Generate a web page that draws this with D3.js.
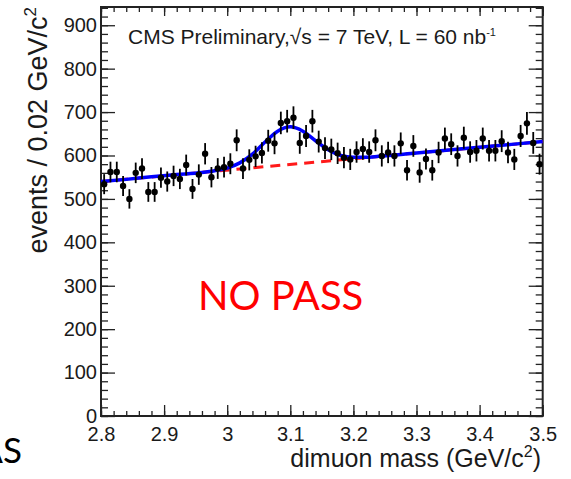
<!DOCTYPE html>
<head>
  <meta charset="utf-8">
  <script src="https://d3js.org/d3.v7.min.js"></script>
  <style>
    body { margin: 0; background: #ffffff; }
    svg { display: block; font-family: Arial, "Liberation Sans", sans-serif; }
  </style>
</head>
<body>
<script>
  // bin centres of the dimuon mass histogram (GeV/c^2)
  var massBins = [2.805, 2.815, 2.825, 2.835, 2.845, 2.855, 2.865, 2.875, 2.885, 2.895,
                  2.905, 2.915, 2.925, 2.935, 2.945, 2.955, 2.965, 2.975, 2.985, 2.995,
                  3.005, 3.015, 3.025, 3.035, 3.045, 3.055, 3.065, 3.075, 3.085, 3.095,
                  3.105, 3.115, 3.125, 3.135, 3.145, 3.155, 3.165, 3.175, 3.185, 3.195,
                  3.205, 3.215, 3.225, 3.235, 3.245, 3.255, 3.265, 3.275, 3.285, 3.295,
                  3.305, 3.315, 3.325, 3.335, 3.345, 3.355, 3.365, 3.375, 3.385, 3.395,
                  3.405, 3.415, 3.425, 3.435, 3.445, 3.455, 3.465, 3.475, 3.485, 3.495];
  // events per bin
  var counts = [534, 562, 562, 530, 500, 560, 570, 516, 516, 549,
                540, 553, 546, 578, 523, 556, 604, 550, 570, 573,
                581, 635, 570, 590, 598, 606, 634, 628, 675, 679,
                687, 629, 645, 679, 632, 617, 614, 605, 595, 591,
                608, 615, 608, 635, 599, 607, 599, 628, 566, 622,
                561, 592, 566, 607, 639, 626, 599, 641, 608, 611,
                639, 611, 611, 633, 607, 591, 645, 674, 629, 580];

  // total fit (signal + background)
  var fitMass   = [2.80, 2.84, 2.88, 2.92, 2.96, 2.98, 3.00, 3.02, 3.04, 3.06, 3.08, 3.10,
                   3.12, 3.14, 3.16, 3.18, 3.20, 3.22, 3.24, 3.30, 3.40, 3.50];
  var fitCounts = [540, 545, 551, 556, 561, 565, 571, 583, 603, 631, 656, 666,
                   656, 634, 613, 600, 596, 596, 598, 606, 619, 632];
  // background only (red dashed)
  var bkgMass   = [2.80, 3.50];
  var bkgCounts = [540, 632];

  var xTicks = [2.8, 2.9, 3.0, 3.1, 3.2, 3.3, 3.4, 3.5];
  var xTickLabels = ["2.8", "2.9", "3", "3.1", "3.2", "3.3", "3.4", "3.5"];
  var yTicks = [0, 100, 200, 300, 400, 500, 600, 700, 800, 900];

  var w = 571, h = 479;
  var plotLeft = 101, plotRight = 542.7, plotTop = 7, plotBottom = 416;

  var svg = d3.select("body").append("svg")
    .attr("width", w)
    .attr("height", h);

  var x = d3.scaleLinear().domain([2.8, 3.5]).range([plotLeft, plotRight]);
  var y = d3.scaleLinear().domain([0, 942]).range([plotBottom, plotTop]);

  var axisColor = "#222";

  // minor ticks, all four sides, pointing inwards
  function minorAxis(g) {
    g.selectAll("text").remove();
    g.select(".domain").remove();
    g.selectAll("line").attr("stroke", axisColor).attr("stroke-width", 1.3);
  }
  var yMinor = y.ticks(47);

  svg.append("g").attr("transform", "translate(0," + plotBottom + ")")
    .call(d3.axisBottom(x).tickValues(x.ticks(35)).tickSize(-5).tickFormat(""))
    .call(minorAxis);
  svg.append("g").attr("transform", "translate(0," + plotTop + ")")
    .call(d3.axisTop(x).tickValues(x.ticks(35)).tickSize(-5).tickFormat(""))
    .call(minorAxis);
  svg.append("g").attr("transform", "translate(" + plotLeft + ",0)")
    .call(d3.axisLeft(y).tickValues(yMinor).tickSize(-7).tickFormat(""))
    .call(minorAxis);
  svg.append("g").attr("transform", "translate(" + plotRight + ",0)")
    .call(d3.axisRight(y).tickValues(yMinor).tickSize(-7).tickFormat(""))
    .call(minorAxis);

  // major ticks with labels
  var xAxis = svg.append("g").attr("transform", "translate(0," + plotBottom + ")")
    .call(d3.axisBottom(x).tickValues(xTicks).tickSize(-11).tickPadding(11)
      .tickFormat(function(d, i) { return xTickLabels[i]; }));
  var yAxis = svg.append("g").attr("transform", "translate(" + plotLeft + ",0)")
    .call(d3.axisLeft(y).tickValues(yTicks).tickSize(-14).tickPadding(4));
  svg.append("g").attr("transform", "translate(0," + plotTop + ")")
    .call(d3.axisTop(x).tickValues(xTicks).tickSize(-9).tickFormat(""))
    .call(minorAxis);
  svg.append("g").attr("transform", "translate(" + plotRight + ",0)")
    .call(d3.axisRight(y).tickValues(yTicks).tickSize(-14).tickFormat(""))
    .call(minorAxis);

  [xAxis, yAxis].forEach(function(g) {
    g.select(".domain").remove();
    g.selectAll("line").attr("stroke", axisColor).attr("stroke-width", 1.3);
    g.selectAll("text").attr("fill", "#1a1a1a")
      .style("font-family", "Arial, 'Liberation Sans', sans-serif")
      .style("font-size", "20px");
  });

  // frame
  svg.append("rect")
    .attr("x", plotLeft).attr("y", plotTop)
    .attr("width", plotRight - plotLeft).attr("height", plotBottom - plotTop)
    .attr("fill", "none").attr("stroke", axisColor).attr("stroke-width", 2);

  // background fit
  var line = d3.line()
    .x(function(d) { return x(d[0]); })
    .y(function(d) { return y(d[1]); });

  svg.append("path")
    .datum(d3.zip(bkgMass, bkgCounts))
    .attr("d", line)
    .attr("fill", "none").attr("stroke", "#ff1a1a")
    .attr("stroke-width", 3).attr("stroke-dasharray", "10,7");

  // total fit
  svg.append("path")
    .datum(d3.zip(fitMass, fitCounts))
    .attr("d", line.curve(d3.curveMonotoneX))
    .attr("fill", "none").attr("stroke", "#0000ff")
    .attr("stroke-width", 3.5);

  // data points with statistical errors
  var pts = svg.append("g").selectAll("g")
    .data(d3.zip(massBins, counts))
    .enter().append("g");

  pts.append("line")
    .attr("x1", function(d) { return x(d[0]); })
    .attr("x2", function(d) { return x(d[0]); })
    .attr("y1", function(d) { return y(d[1] - Math.sqrt(d[1])); })
    .attr("y2", function(d) { return y(d[1] + Math.sqrt(d[1])); })
    .attr("stroke", "#000").attr("stroke-width", 1.8);

  pts.append("circle")
    .attr("cx", function(d) { return x(d[0]); })
    .attr("cy", function(d) { return y(d[1]); })
    .attr("r", 3.2)
    .attr("fill", "#000");

  // header
  var head = svg.append("text")
    .attr("x", 128).attr("y", 44)
    .attr("fill", "#1a1a1a")
    .style("font-size", "21px");
  head.append("tspan").text("CMS Preliminary,\u221As = 7 TeV, L = 60 nb");
  head.append("tspan").attr("dy", -8).style("font-size", "11px").text("-1");

  // axis titles
  var yt = svg.append("text")
    .attr("transform", "translate(47," + plotTop + ") rotate(-90)")
    .attr("text-anchor", "end")
    .attr("fill", "#1a1a1a")
    .style("font-size", "27px");
  yt.append("tspan").text("events / 0.02 GeV/c");
  yt.append("tspan").attr("dy", -11).style("font-size", "17px").text("2");

  var xt = svg.append("text")
    .attr("x", 541).attr("y", 467)
    .attr("text-anchor", "end")
    .attr("fill", "#1a1a1a")
    .style("font-size", "25px");
  xt.append("tspan").text("dimuon mass (GeV/c");
  xt.append("tspan").attr("dy", -10).style("font-size", "16px").text("2");
  xt.append("tspan").attr("dy", 10).text(")");

  // slide overlay
  svg.append("text")
    .attr("x", 198).attr("y", 310)
    .attr("fill", "#ff0000")
    .style("font-family", "Lato, 'Open Sans', sans-serif")
    .style("font-size", "40px")
    .text("NO PASS");

  svg.append("text")
    .attr("x", 22).attr("y", 463)
    .attr("text-anchor", "end")
    .attr("fill", "#000")
    .style("font-family", "Lato, 'Open Sans', sans-serif")
    .style("font-size", "35px")
    .text("AS");
</script>
</body>
